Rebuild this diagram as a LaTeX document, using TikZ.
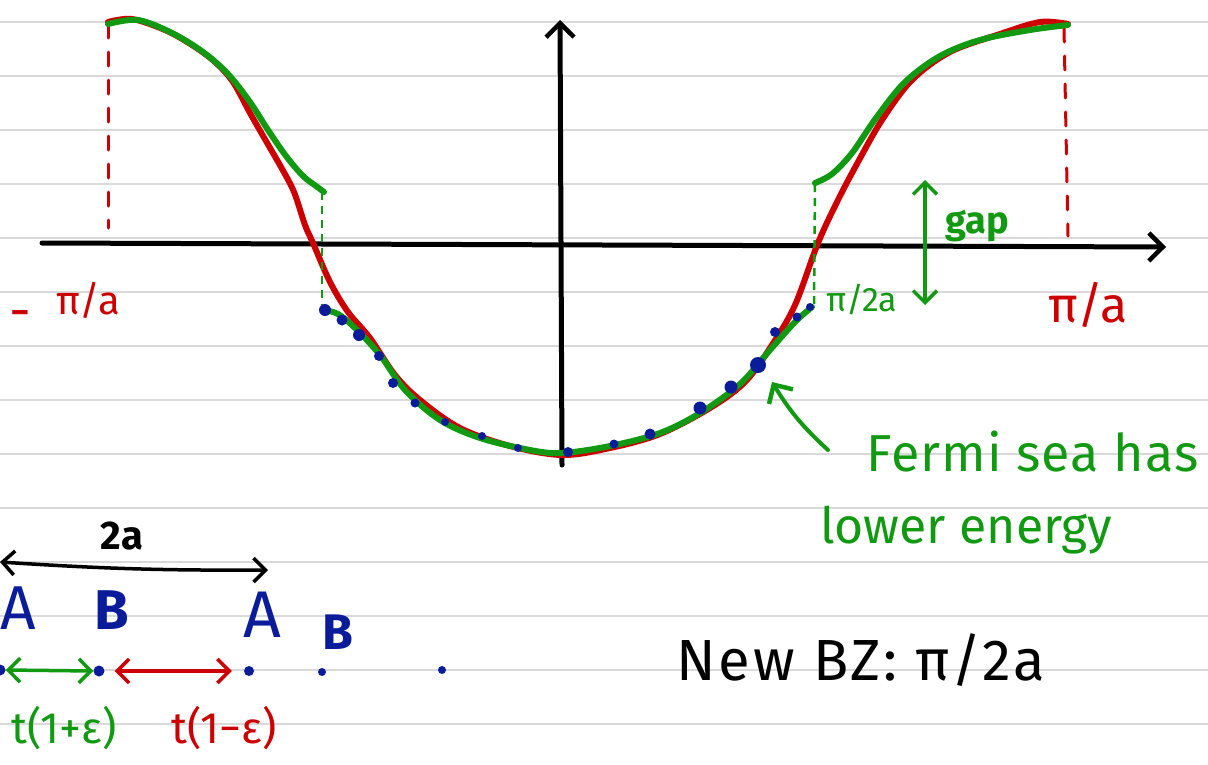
\documentclass[tikz,border=0pt]{standalone}
\usepackage{fontspec}
\setmainfont{Fira Sans}
\usetikzlibrary{arrows.meta}
\definecolor{pred}{HTML}{CC0000}
\definecolor{pgreen}{HTML}{119911}
\definecolor{pblue}{HTML}{0A1C99}
\definecolor{rule}{HTML}{D9D9D9}
\tikzset{
  ruled/.style={rule, line width=2pt},
  axisline/.style={black, line width=5pt, line cap=round},
  chev/.style={-{Straight Barb[length=14pt,width=28pt,line width=4.5pt]}},
  chevs/.style={{Straight Barb[length=12pt,width=24pt,line width=3.5pt]}-{Straight Barb[length=12pt,width=24pt,line width=3.5pt]}},
  band/.style={line width=6pt, line cap=round, line join=round},
  dropline/.style={line width=3pt, dash pattern=on 14pt off 14pt, line cap=round},
  gdash/.style={pgreen, line width=2.5pt, dash pattern=on 8pt off 6pt},
  dot/.style={circle, fill=pblue, inner sep=0pt, minimum size=#1},
  lbl/.style={inner sep=0pt, font=\fontsize{#1}{#1}\selectfont},
  blbl/.style={inner sep=0pt, font=\bfseries\fontsize{#1}{#1}\selectfont},
}
\begin{document}
\begin{tikzpicture}[x=1pt,y=-1pt]
\useasboundingbox (0,0) rectangle (1208,764);
\fill[white] (0,0) rectangle (1208,764);
% ruled paper
\foreach \yy in {22,76,130,184,238,292,346,400,454,508,562,616,670,724}
  \draw[ruled] (0,\yy) -- (1208,\yy);

% axes
\coordinate (xs) at (42,243);
\coordinate (xe) at (1166,247);
\coordinate (ys) at (562,465);
\coordinate (ye) at (560,20);
\draw[axisline, chev] (xs) -- (xe);
\draw[axisline, chev] (ys) -- (ye);

% red dashed drop lines
\coordinate (rl1) at (108,24); \coordinate (rl2) at (108,228);
\coordinate (rr1) at (1064,28); \coordinate (rr2) at (1068,236);
\draw[pred, dropline] (rl1) -- (rl2);
\draw[pred, dropline] (rr1) -- (rr2);

% red band (original)
\draw[pred, band] plot[smooth, tension=0.55] coordinates {
 (108,22) (132,19) (165,30) (192,45) (215,62) (233,82) (250,113) (266,141) (281,167) (294,192)
 (305,225) (313,243) (330,282) (348,312) (370,338) (395,375) (420,400) (460,428) (510,446) (562,455)
 (610,448) (660,434) (710,408) (745,382) (772,345) (795,305) (818,243) (838,200)
 (858,162) (882,120) (912,80) (950,52) (1000,34) (1040,22) (1068,24)};

% green dashed gap lines
\coordinate (gl1) at (322,192); \coordinate (gl2) at (322,310);
\coordinate (gr1) at (815,184); \coordinate (gr2) at (814,305);
\draw[gdash] (gl1) -- (gl2);
\draw[gdash] (gr1) -- (gr2);

% green bands
\draw[pgreen, band] plot[smooth, tension=0.55] coordinates {
 (108,24) (138,20) (172,33) (203,52) (228,74) (250,102) (268,130) (286,156) (303,176) (316,186) (324,192)};
\draw[pgreen, band] plot[smooth, tension=0.55] coordinates {
 (324,310) (338,314) (355,328) (380,355) (405,390) (440,420) (480,438) (530,450) (562,453)
 (610,446) (660,433) (700,413) (740,384) (770,350) (795,322) (812,307)};
\draw[pgreen, band] plot[smooth, tension=0.55] coordinates {
 (815,183) (832,174) (852,153) (876,118) (905,82) (940,56) (980,40) (1030,30) (1068,25)};

% blue dots on Fermi sea
\foreach \px/\py/\s in {325/310/12,342/320/11,359/335/12,379/356/10,393/383/10,415/403/9,
  445/422/8,482/436/8,518/448/8,568/452/10,614/444/9,650/434/11,700/408/13,731/387/13,
  758/365/16,775/332/10,797/317/9,810/307/8}
  \node[dot=\s pt] at (\px,\py) {};

% labels on axes
\node[lbl=54, pred] (mn) at (20,320) {-};
\node[lbl=40, pred] (lpa) at (88,300) {π/a};
\node[lbl=34, pgreen] (l2a) at (862,300) {π/2a};
\node[lbl=50, pred] (rpa) at (1088,305) {π/a};

% gap arrow
\coordinate (g1) at (925,180);
\coordinate (g2) at (925,305);
\draw[pgreen, line width=3.5pt, line cap=round, chevs] (g1) -- (g2);
\node[blbl=38, pgreen] (gap) at (977,226) {gap};

% Fermi sea annotation
\coordinate (fa1) at (828,450);
\coordinate (fa2) at (772,382);
\draw[pgreen, line width=4pt, line cap=round, chev] (fa1) to[bend left=8] (fa2);
\node[lbl=52, pgreen, anchor=west, font=\addfontfeature{LetterSpace=2}\fontsize{52}{52}\selectfont] (f1) at (866,452) {Fermi sea has};
\node[lbl=50, pgreen, anchor=west] (f2) at (820,530) {lower energy};

% lattice sketch
\node[blbl=40] (twoa) at (122,536) {2a};
\coordinate (la1) at (0,562);
\coordinate (la2) at (268,570);
\draw[black, line width=3.5pt, line cap=round, chevs] (la1) to[bend right=2] (la2);

\node[lbl=62, pblue, anchor=west] (A1) at (0,608) {A};
\node[blbl=56, pblue] (B1) at (112,610) {B};
\node[lbl=66, pblue] (A2) at (262,615) {A};
\node[blbl=50, pblue] (B2) at (338,632) {B};

\node[dot=11pt] (d1) at (0,670) {};
\node[dot=11pt] (d2) at (99,671) {};
\node[dot=10pt] (d3) at (249,671) {};
\node[dot=8pt] (d4) at (322,672) {};
\node[dot=8pt] (d5) at (442,670) {};

\draw[pgreen, line width=3.5pt, line cap=round, chevs] (d1.east) -- (d2.west);
\draw[pred, line width=3.5pt, line cap=round, chevs] ([xshift=10pt]d2.east) -- ([xshift=-12pt]d3.west);

\node[lbl=44, pgreen] (t1) at (64,728) {t(1+ε)};
\node[lbl=44, pred] (t2) at (224,728) {t(1−ε)};

\node[lbl=58, anchor=west, font=\addfontfeature{LetterSpace=5}\fontsize{58}{58}\selectfont] (nbz) at (676,660) {New BZ: π/2a};
\end{tikzpicture}
\end{document}
